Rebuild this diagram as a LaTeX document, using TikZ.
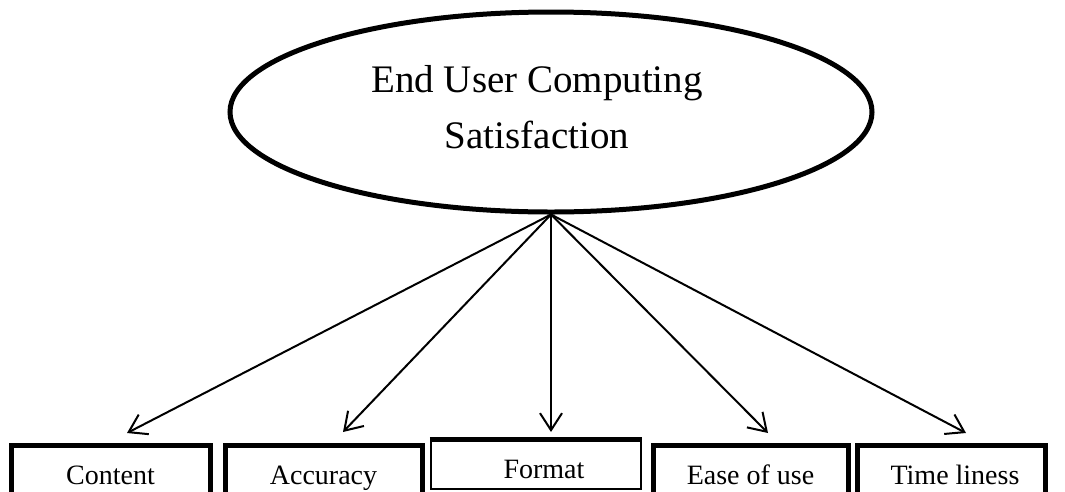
\documentclass[tikz,border=0pt]{standalone}
\usepackage{fontspec}
\setmainfont{Liberation Serif}
\usetikzlibrary{shapes.geometric,arrows.meta,calc}
\begin{document}
\begin{tikzpicture}[x=1pt,y=-1pt,
  ellbox/.style={draw, ellipse, line width=5pt, minimum width=642pt, minimum height=200pt, inner sep=0pt},
  maintext/.style={align=center, inner sep=0pt, font=\fontsize{39}{56}\selectfont},
  itembox/.style={draw, line width=5pt, inner ysep=0pt, inner xsep=0pt, text height=39pt, text depth=40pt, anchor=north, font=\fontsize{28}{30}\selectfont},
  thinbox/.style={draw, line width=2.2pt, inner ysep=0pt, inner xsep=0pt, text height=38pt, text depth=11pt, anchor=north, font=\fontsize{28}{30}\selectfont},
  link/.style={line width=2pt, -{Straight Barb[length=17pt,width=22pt,line width=2pt]}}
]
\useasboundingbox (0,0) rectangle (1065,491);
\clip (0,0) rectangle (1065,491);
\node[ellbox] (ecs) at (551,112) {};
\node[maintext, anchor=north] (ecstext) at (537,65.5) {End User Computing\\Satisfaction};

\node[itembox, minimum width=199pt] (content) at (110.5,443) {Content};
\node[itembox, minimum width=197pt] (accuracy) at (323.5,443) {Accuracy};
\node[thinbox, minimum width=210pt] (format) at (536,439) {\hspace{16pt}Format};
\draw[line width=5pt] (format.north west) -- (format.north east);
\node[itembox, minimum width=195pt] (ease) at (750.5,443) {Ease of use};
\node[itembox, minimum width=188pt] (time) at (951,443) {\hspace{8pt}Time liness};

\draw[link] (ecs.south) -- ($(content.north)+(16.5,-10)$);
\draw[link] (ecs.south) -- ($(accuracy.north)+(19.5,-11)$);
\draw[link] (ecs.south) -- ($(format.north)+(15,-7)$);
\draw[link] (ecs.south) -- ($(ease.north)+(17.5,-10)$);
\draw[link] (ecs.south) -- ($(time.north)+(15,-10)$);
\end{tikzpicture}
\end{document}
